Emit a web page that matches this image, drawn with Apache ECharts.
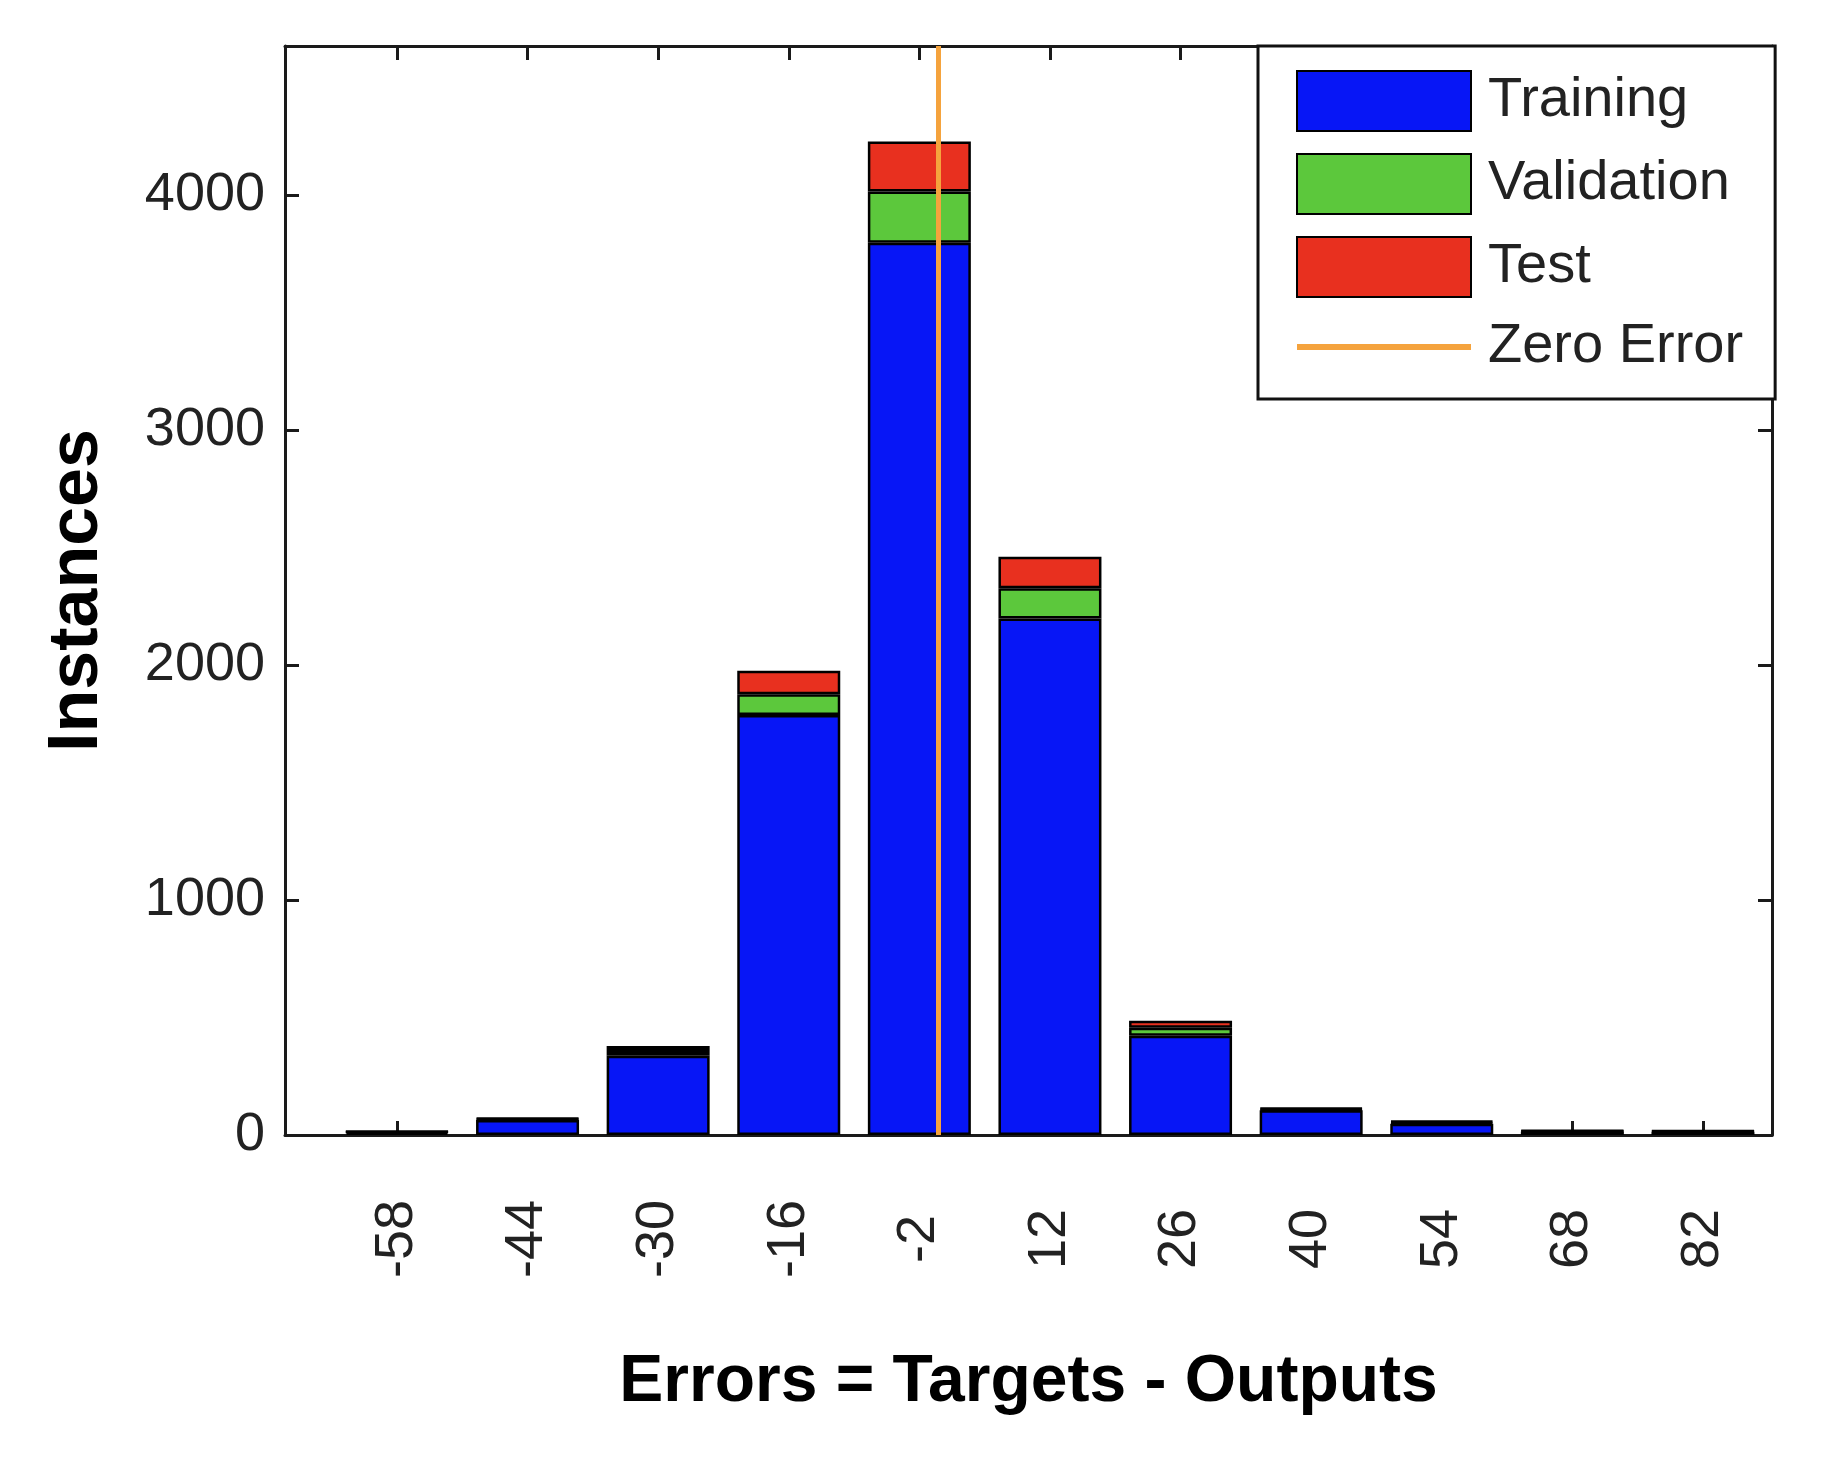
<!DOCTYPE html>
<html><head><meta charset="utf-8">
<script src="https://cdn.jsdelivr.net/npm/echarts@6/dist/echarts.min.js"></script>
<style>html,body{margin:0;padding:0;background:#fff}#c{width:1822px;height:1457px}</style>
</head><body><div id="c"></div>
<script>
// Bin centers (tick labels) and stacked counts per bin
const binCenters = [-58, -44, -30, -16, -2, 12, 26, 40, 54, 68, 82];
const training   = [10, 64, 337, 1787, 3797, 2198, 422, 105, 48, 14, 12];
const validation = [3, 4, 20, 89, 218, 129, 34, 5, 6, 3, 3];
const test       = [3, 4, 22, 99, 213, 134, 30, 5, 6, 3, 3];
const zeroError  = [0];
const yTicks     = [0, 1000, 2000, 3000, 4000];
const xRange = [-70, 89.4];
const yRange = [0, 4634];

const FONT = 'Liberation Sans, Arial, sans-serif';
const AX = '#1a1a1a';
const blue = '#0716F6', green = '#5CC83C', red = '#E8301F', orange = '#F5A33D';

// value first so the stack accumulates on the count dimension
function pairs(vals){ return binCenters.map((x,i)=>[vals[i], x]); }
function barSeries(name, vals, color){
  return {name, type:'bar', stack:'total', barWidth:103, barGap:'-100%', data:pairs(vals),
    encode:{x:1, y:0},
    itemStyle:{color, borderColor:'#000', borderWidth:2.5}, emphasis:{disabled:true}};
}
const axLine = {show:true, onZero:false, lineStyle:{color:AX, width:3}};
const tickStyle = {color:AX, width:3};

const chart = echarts.init(document.getElementById('c'), null, {renderer:'canvas'});
chart.setOption({
  animation:false,
  backgroundColor:'#fff',
  grid:{left:285, right:50, top:46, bottom:322, containLabel:false},
  xAxis:[
    {type:'value', position:'bottom', min:xRange[0], max:xRange[1],
     axisLine:axLine,
     axisTick:{show:true, inside:true, length:14, customValues:binCenters, lineStyle:tickStyle},
     axisLabel:{customValues:binCenters, rotate:90, align:'center', verticalAlign:'middle', margin:104,
       fontSize:54, color:'#222', fontFamily:FONT, formatter:v=>String(v)},
     splitLine:{show:false},
     name:'Errors = Targets - Outputs', nameLocation:'middle', nameGap:215,
     nameTextStyle:{fontSize:66, fontWeight:'bold', color:'#000', fontFamily:FONT}},
    {type:'value', position:'top', min:xRange[0], max:xRange[1],
     axisLine:axLine,
     axisTick:{show:true, inside:true, length:14, customValues:binCenters, lineStyle:tickStyle},
     axisLabel:{show:false}, splitLine:{show:false}}
  ],
  yAxis:[
    {type:'value', position:'left', min:yRange[0], max:yRange[1],
     axisLine:axLine,
     axisTick:{show:true, inside:true, length:14, customValues:yTicks, lineStyle:tickStyle},
     axisLabel:{customValues:yTicks, margin:20, fontSize:54, color:'#222', fontFamily:FONT, formatter:v=>String(v)},
     splitLine:{show:false},
     name:'Instances', nameLocation:'middle', nameGap:172, nameRotate:90,
     nameTextStyle:{fontSize:70, fontWeight:'bold', color:'#000', fontFamily:FONT}},
    {type:'value', position:'right', min:yRange[0], max:yRange[1],
     axisLine:axLine,
     axisTick:{show:true, inside:true, length:14, customValues:yTicks, lineStyle:tickStyle},
     axisLabel:{show:false}, splitLine:{show:false}}
  ],
  legend:{
    orient:'vertical', left:1258, top:46, padding:[24,32,24,38],
    itemWidth:174, itemHeight:60, itemGap:21, symbolKeepAspect:true,
    backgroundColor:'#fff', borderColor:'#111', borderWidth:3, borderRadius:0,
    textStyle:{fontSize:56, color:'#222', fontFamily:FONT, padding:[0,0,0,12]},
    data:[
      {name:'Training', icon:'rect', itemStyle:{borderColor:'#000', borderWidth:2}},
      {name:'Validation', icon:'rect', itemStyle:{borderColor:'#000', borderWidth:2}},
      {name:'Test', icon:'rect', itemStyle:{borderColor:'#000', borderWidth:2}},
      {name:'Zero Error', icon:'path://M0,0H174V6H0Z', itemStyle:{color:orange, borderWidth:0}}
    ]
  },
  series:[
    barSeries('Training', training, blue),
    barSeries('Validation', validation, green),
    barSeries('Test', test, red),
    {name:'Zero Error', type:'line', data:[], symbol:'none',
     lineStyle:{color:orange, width:5}, itemStyle:{color:orange}, z:10,
     markLine:{silent:true, symbol:['none','none'], animation:false,
       label:{show:false}, lineStyle:{color:orange, width:5, type:'solid'},
       data: zeroError.map(v=>({xAxis:v}))}}
  ]
});
</script></body></html>
